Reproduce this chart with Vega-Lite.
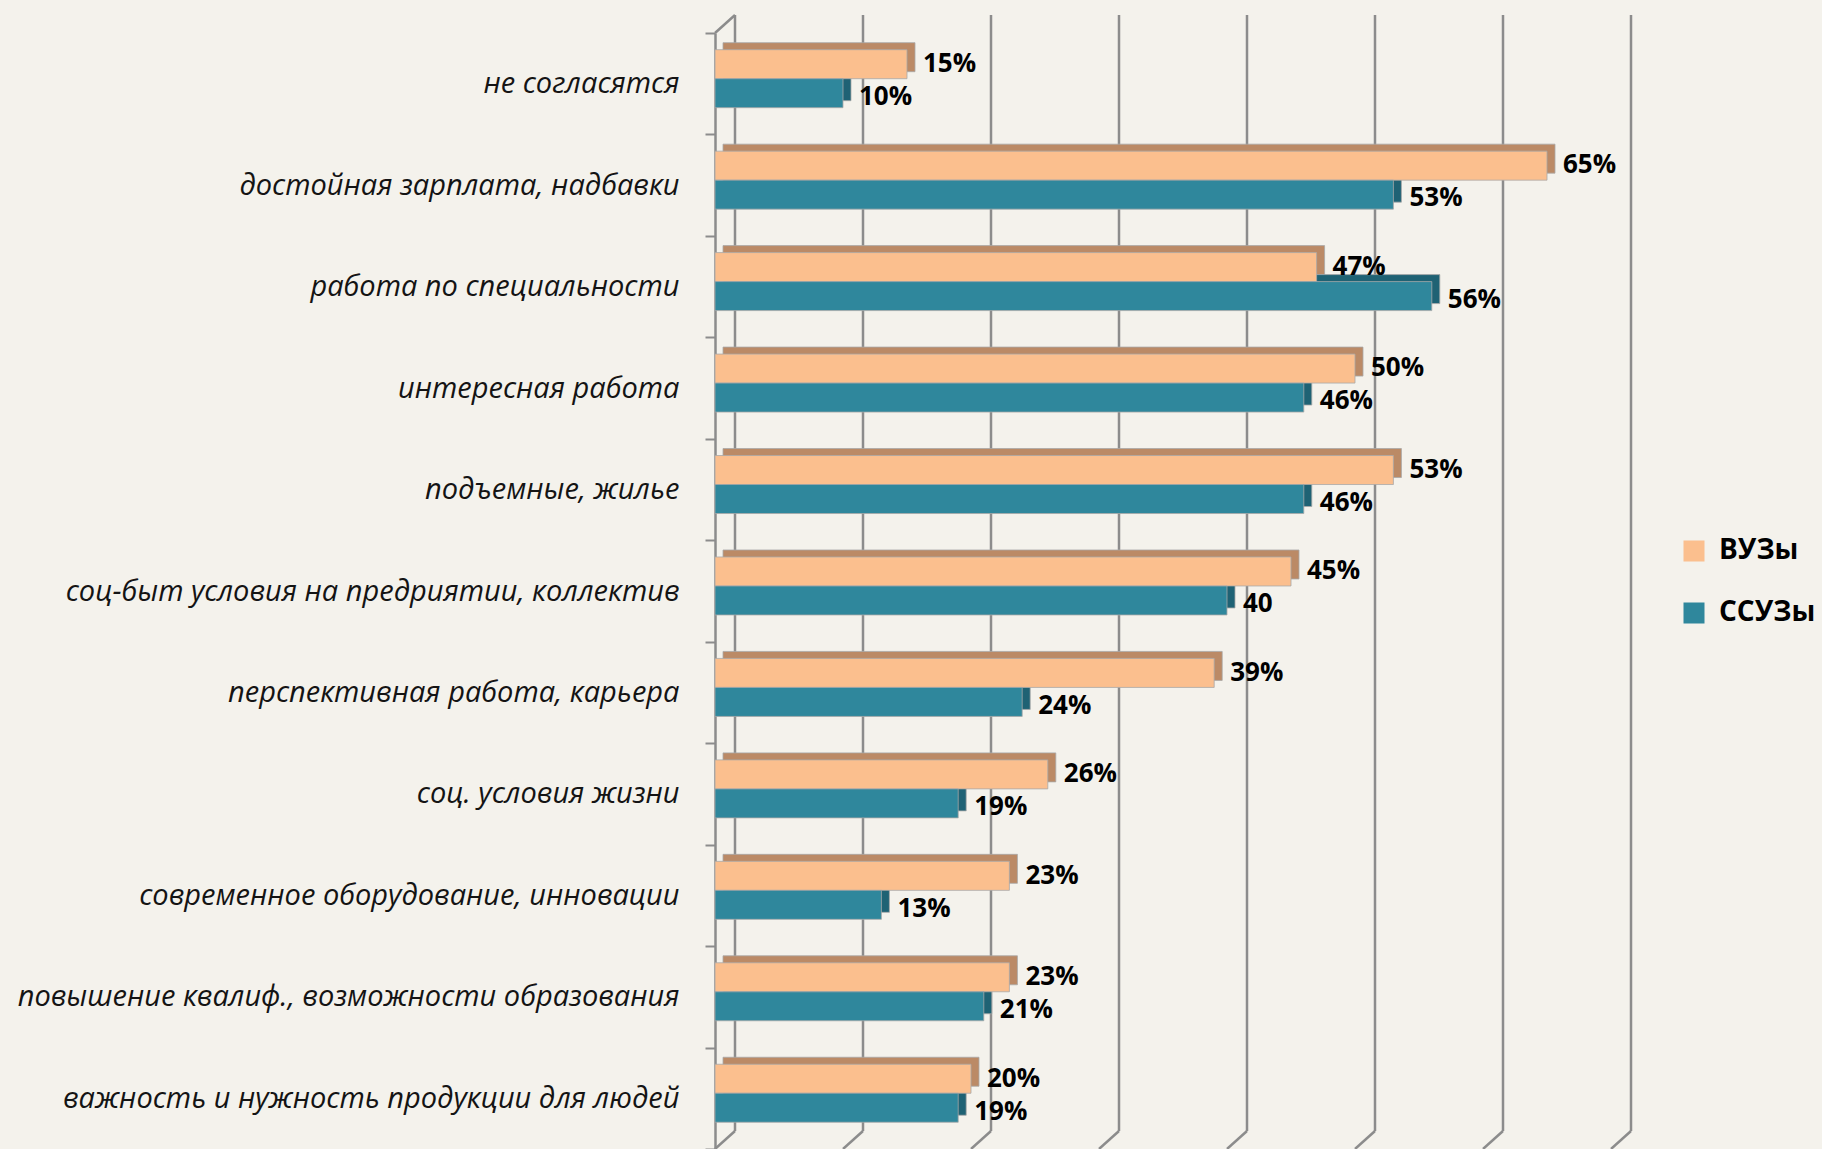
{
  "$schema": "https://vega.github.io/schema/vega-lite/v6.json",
  "width": 896,
  "height": 1116,
  "autosize": {"type": "none"},
  "padding": {"left": 715, "top": 33, "right": 211, "bottom": 0},
  "background": "#f4f2ec",
  "config": {
    "view": {"stroke": null},
    "font": "Open Sans",
    "axisY": {
      "title": null, "domain": true, "domainColor": "#8c8c8c", "domainWidth": 2.5,
      "ticks": true, "tickBand": "extent", "tickColor": "#8c8c8c", "tickWidth": 2, "tickSize": 10,
      "labelFont": "Open Sans", "labelFontStyle": "italic", "labelFontSize": 29, "labelColor": "#141414",
      "labelPadding": 26, "labelLimit": 900
    }
  },
  "datasets": {
    "grid": [{"v": 0}, {"v": 10}, {"v": 20}, {"v": 30}, {"v": 40}, {"v": 50}, {"v": 60}, {"v": 70}],
    "corner": [{"v": 0}],
    "bars": [
      {"cat": "не согласятся", "series": "ВУЗы", "value": 15, "label": "15%"},
      {"cat": "не согласятся", "series": "ССУЗы", "value": 10, "label": "10%"},
      {"cat": "достойная зарплата, надбавки", "series": "ВУЗы", "value": 65, "label": "65%"},
      {"cat": "достойная зарплата, надбавки", "series": "ССУЗы", "value": 53, "label": "53%"},
      {"cat": "работа по специальности", "series": "ВУЗы", "value": 47, "label": "47%"},
      {"cat": "работа по специальности", "series": "ССУЗы", "value": 56, "label": "56%"},
      {"cat": "интересная работа", "series": "ВУЗы", "value": 50, "label": "50%"},
      {"cat": "интересная работа", "series": "ССУЗы", "value": 46, "label": "46%"},
      {"cat": "подъемные, жилье", "series": "ВУЗы", "value": 53, "label": "53%"},
      {"cat": "подъемные, жилье", "series": "ССУЗы", "value": 46, "label": "46%"},
      {"cat": "соц-быт условия на предриятии, коллектив", "series": "ВУЗы", "value": 45, "label": "45%"},
      {"cat": "соц-быт условия на предриятии, коллектив", "series": "ССУЗы", "value": 40, "label": "40"},
      {"cat": "перспективная работа, карьера", "series": "ВУЗы", "value": 39, "label": "39%"},
      {"cat": "перспективная работа, карьера", "series": "ССУЗы", "value": 24, "label": "24%"},
      {"cat": "соц. условия жизни", "series": "ВУЗы", "value": 26, "label": "26%"},
      {"cat": "соц. условия жизни", "series": "ССУЗы", "value": 19, "label": "19%"},
      {"cat": "современное оборудование, инновации", "series": "ВУЗы", "value": 23, "label": "23%"},
      {"cat": "современное оборудование, инновации", "series": "ССУЗы", "value": 13, "label": "13%"},
      {"cat": "повышение квалиф., возможности образования", "series": "ВУЗы", "value": 23, "label": "23%"},
      {"cat": "повышение квалиф., возможности образования", "series": "ССУЗы", "value": 21, "label": "21%"},
      {"cat": "важность и нужность продукции для людей", "series": "ВУЗы", "value": 20, "label": "20%"},
      {"cat": "важность и нужность продукции для людей", "series": "ССУЗы", "value": 19, "label": "19%"}
    ]
  },
  "resolve": {"scale": {"yOffset": "independent", "color": "independent"}},
  "layer": [
    {
      "data": {"name": "grid"},
      "mark": {"type": "rule", "stroke": "#8c8c8c", "strokeWidth": 2.5, "xOffset": 20, "x2Offset": 20, "yOffset": -18, "y2Offset": -18},
      "encoding": {
        "x": {"field": "v", "type": "quantitative", "scale": {"domain": [0, 70], "nice": false}, "axis": null},
        "x2": {"field": "v"},
        "y": {"value": 0},
        "y2": {"value": "height"}
      }
    },
    {
      "data": {"name": "grid"},
      "mark": {"type": "rule", "stroke": "#8c8c8c", "strokeWidth": 2.5, "xOffset": 20, "x2Offset": 0, "yOffset": -18, "y2Offset": 0},
      "encoding": {
        "x": {"field": "v", "type": "quantitative", "axis": null},
        "x2": {"field": "v"},
        "y": {"value": "height"},
        "y2": {"value": "height"}
      }
    },
    {
      "data": {"name": "corner"},
      "mark": {"type": "rule", "stroke": "#8c8c8c", "strokeWidth": 2.5, "xOffset": 0, "x2Offset": 20, "yOffset": 0, "y2Offset": -18},
      "encoding": {
        "x": {"field": "v", "type": "quantitative", "axis": null},
        "x2": {"field": "v"},
        "y": {"value": 0},
        "y2": {"value": 0}
      }
    },
    {
      "data": {"name": "bars"},
      "mark": {"type": "bar", "xOffset": 8, "x2Offset": 8, "stroke": "#a8a8a8", "strokeWidth": 0.8},
      "encoding": {
        "y": {"field": "cat", "type": "nominal", "sort": null, "scale": {"paddingInner": 0, "paddingOuter": 0}},
        "yOffset": {"field": "series", "type": "nominal", "sort": null, "scale": {"range": [9.7, 67.7], "paddingInner": 0, "paddingOuter": 0}},
        "x": {"field": "value", "type": "quantitative", "axis": null},
        "color": {"field": "series", "type": "nominal", "sort": null, "scale": {"domain": ["ВУЗы", "ССУЗы"], "range": ["#bb8a66", "#1f6274"]}, "legend": null}
      }
    },
    {
      "data": {"name": "bars"},
      "mark": {"type": "bar", "stroke": "#a8a8a8", "strokeWidth": 0.8},
      "encoding": {
        "y": {"field": "cat", "type": "nominal", "sort": null},
        "yOffset": {"field": "series", "type": "nominal", "sort": null, "scale": {"range": [16.7, 74.7], "paddingInner": 0, "paddingOuter": 0}},
        "x": {"field": "value", "type": "quantitative", "axis": null},
        "color": {
          "field": "series", "type": "nominal", "sort": null,
          "scale": {"domain": ["ВУЗы", "ССУЗы"], "range": ["#fbbf8e", "#2f879c"]},
          "legend": {
            "orient": "none", "legendX": 965, "legendY": 504, "title": null, "padding": 0,
            "symbolType": "square", "symbolSize": 441, "symbolStrokeWidth": 0,
            "labelFont": "Open Sans", "labelFontSize": 28, "labelFontWeight": "bold", "labelColor": "#000000",
            "labelOffset": 11, "rowPadding": 34
          }
        }
      }
    },
    {
      "data": {"name": "bars"},
      "mark": {"type": "text", "align": "left", "baseline": "middle", "dx": 16, "font": "Open Sans", "fontWeight": "bold", "fontSize": 26, "color": "#000000"},
      "encoding": {
        "y": {"field": "cat", "type": "nominal", "sort": null},
        "yOffset": {"field": "series", "type": "nominal", "sort": null, "scale": {"type": "point", "range": [31, 64], "padding": 0}},
        "x": {"field": "value", "type": "quantitative", "axis": null},
        "text": {"field": "label"}
      }
    }
  ]
}
